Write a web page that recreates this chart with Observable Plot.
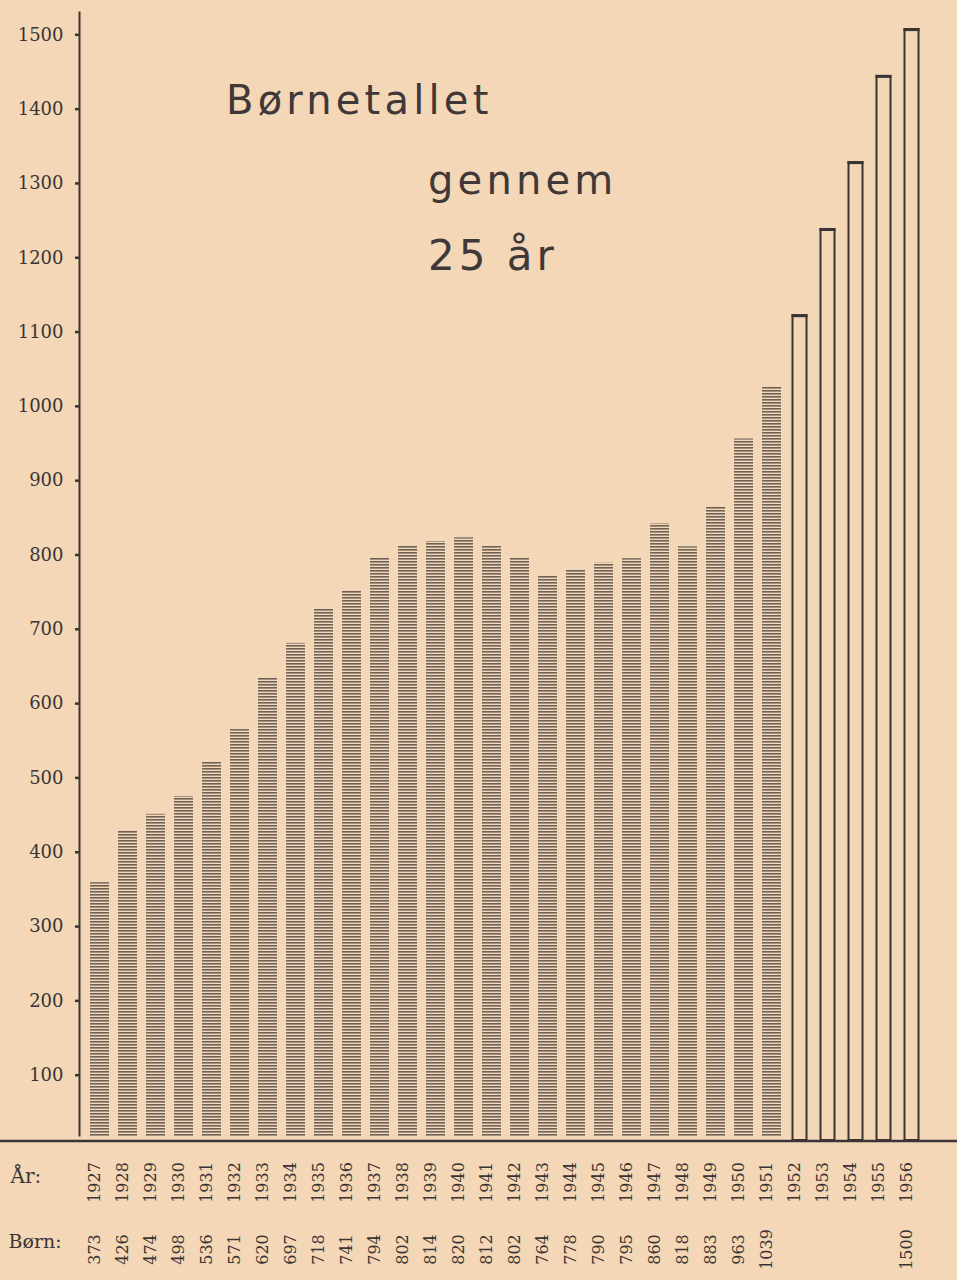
<!DOCTYPE html>
<html>
<head>
<meta charset="utf-8">
<script src="https://cdn.jsdelivr.net/npm/d3@7"></script>
<script src="https://cdn.jsdelivr.net/npm/@observablehq/plot@0.6"></script>
<style>
  html, body { margin: 0; padding: 0; background: #f3d7b6; overflow: hidden; }
  #wrap { position: relative; width: 957px; height: 1280px; }
  #wrap svg { display: block; }
  .t { position: absolute; font-family: "DejaVu Sans", sans-serif; font-size: 40px; color: #403838;
       white-space: nowrap; line-height: 1; letter-spacing: 4.2px; }
</style>
</head>
<body>
<svg width="0" height="0" style="position:absolute">
  <defs>
    <pattern id="hatch" patternUnits="userSpaceOnUse" width="6" height="3">
      <rect x="0" y="0" width="6" height="1.6" fill="#6d6158"></rect>
    </pattern>
  </defs>
</svg>
<div id="wrap">
  <div class="t" style="left:226px; top:80px;">Børnetallet</div>
  <div class="t" style="left:428px; top:160px;">gennem</div>
  <div class="t" style="left:428px; top:235px; font-size:42px; letter-spacing:4px;">25 år</div>
</div>
<script>
// Years (Ar)
const years = [1927, 1928, 1929, 1930, 1931, 1932, 1933, 1934, 1935, 1936,
               1937, 1938, 1939, 1940, 1941, 1942, 1943, 1944, 1945, 1946,
               1947, 1948, 1949, 1950, 1951, 1952, 1953, 1954, 1955, 1956];
// Bar heights as drawn
const barValues = [359, 428, 451, 475, 521, 565, 634, 681, 727, 751,
                   796, 812, 818, 823, 812, 796, 772, 780, 789, 795,
                   842, 811, 864, 956, 1026, 1122, 1238, 1328, 1444, 1507];
// Printed "Børn" row
const bornLabels = ["373", "426", "474", "498", "536", "571", "620", "697", "718", "741",
                    "794", "802", "814", "820", "812", "802", "764", "778", "790", "795",
                    "860", "818", "883", "963", "1039", "", "", "", "", "1500"];
// Years drawn as open (outlined) bars
const openYears = [1952, 1953, 1954, 1955, 1956];
// Y tick labels
const yTicks = [100, 200, 300, 400, 500, 600, 700, 800, 900, 1000, 1100, 1200, 1300, 1400, 1500];

const ink = "#3b3434";
const data = years.map((year, i) => ({year, value: barValues[i], born: bornLabels[i]}));
const hatched = data.filter(d => !openYears.includes(d.year));
const open = data.filter(d => openYears.includes(d.year));

const chart = Plot.plot({
  width: 957,
  height: 1280,
  marginLeft: 79,
  marginRight: 26,
  marginTop: 12,
  marginBottom: 131,
  style: {background: "transparent", color: ink, fontFamily: "'DejaVu Serif', serif"},
  x: {type: "band", domain: years, paddingInner: 0.33, paddingOuter: 0.176, axis: null},
  y: {domain: [0, 1530], axis: null},
  marks: [
    Plot.barY(hatched, {x: "year", y: "value", fill: "url(#hatch)", insetBottom: 13}),
    Plot.barY(open, {x: "year", y: "value", fill: "none", stroke: ink, strokeWidth: 2,
                     insetLeft: 2.5, insetRight: 2.5, insetBottom: 9}),
    Plot.tickY(open, {x: "year", y: "value", stroke: ink, strokeWidth: 3, insetLeft: 1.5, insetRight: 1.5}),
    Plot.ruleY([0], {stroke: ink, strokeWidth: 2.5, dy: -8.5, insetLeft: -79, insetRight: -26}),
    Plot.frame({anchor: "left", stroke: ink, strokeWidth: 2, insetBottom: 14}),
    Plot.axisY(yTicks, {tickFormat: d => String(d), tickSize: 4, tickPadding: 12, fontSize: 18,
                        strokeWidth: 2.5, label: null, fill: ink}),
    Plot.text(data, {x: "year", text: d => String(d.year), frameAnchor: "bottom", dy: 33,
                     rotate: -90, fontSize: 16, fill: ink}),
    Plot.text(data, {x: "year", text: "born", frameAnchor: "bottom", dy: 100,
                     rotate: -90, fontSize: 16, fill: ink}),
    Plot.text(["År:"], {frameAnchor: "bottom-left", dx: -69, dy: 33, textAnchor: "start",
                        fontSize: 20, letterSpacing: 2, fill: ink}),
    Plot.text(["Børn:"], {frameAnchor: "bottom-left", dx: -71, dy: 98, textAnchor: "start",
                          fontSize: 19, letterSpacing: 1.5, fill: ink})
  ]
});
document.getElementById("wrap").prepend(chart);
</script>
</body>
</html>
